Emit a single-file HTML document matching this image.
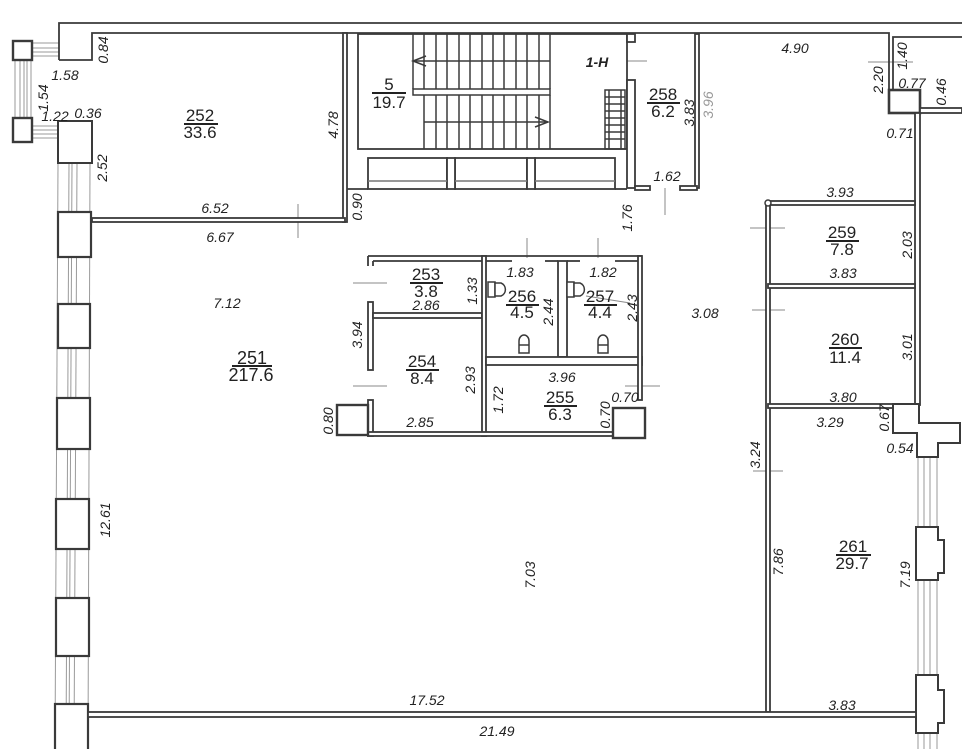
<!DOCTYPE html>
<html>
<head>
<meta charset="utf-8">
<style>
  html,body{margin:0;padding:0;background:#fff;}
  svg{display:block;}
  .d{font-family:"Liberation Sans",sans-serif;font-style:italic;font-size:14px;fill:#222;}
  .g{font-family:"Liberation Sans",sans-serif;font-style:italic;font-size:14px;fill:#999;}
  .r{font-family:"Liberation Sans",sans-serif;font-size:17px;fill:#222;}
  .rb{font-family:"Liberation Sans",sans-serif;font-size:18px;fill:#222;}
</style>
</head>
<body>
<svg width="962" height="749" viewBox="0 0 962 749" xmlns="http://www.w3.org/2000/svg">
<rect width="962" height="749" fill="#fff"/>

<!-- thin gray window lines -->
<g stroke="#9a9a9a" stroke-width="1" fill="none">
  <!-- top-left bay windows -->
  <line x1="32" y1="43" x2="59" y2="43"/><line x1="32" y1="48" x2="59" y2="48"/>
  <line x1="32" y1="52" x2="59" y2="52"/><line x1="32" y1="56" x2="59" y2="56"/>
  <line x1="32" y1="126" x2="58" y2="126"/><line x1="32" y1="130" x2="58" y2="130"/>
  <line x1="32" y1="134" x2="58" y2="134"/><line x1="32" y1="138" x2="58" y2="138"/>
  <line x1="15" y1="60" x2="15" y2="118"/><line x1="20" y1="60" x2="20" y2="118"/>
  <line x1="24" y1="60" x2="24" y2="118"/><line x1="27" y1="60" x2="27" y2="118"/>
  <line x1="31" y1="60" x2="31" y2="118"/>
  <!-- left facade window lines -->
  <line x1="58" y1="163" x2="55" y2="749"/>
  <line x1="69" y1="163" x2="66" y2="749"/>
  <line x1="72" y1="163" x2="69" y2="749"/>
  <line x1="77" y1="163" x2="74" y2="749"/>
  <line x1="90" y1="163" x2="88" y2="749"/>
  <!-- right facade window lines -->
  <line x1="918" y1="457" x2="918" y2="749"/>
  <line x1="924" y1="457" x2="924" y2="749"/>
  <line x1="930" y1="457" x2="930" y2="749"/>
  <line x1="937" y1="457" x2="937" y2="749"/>
</g>

<!-- door markers / ticks -->
<g stroke="#8a8a8a" stroke-width="1" fill="none">
  <line x1="298" y1="204" x2="298" y2="238"/>
  <line x1="665" y1="188" x2="665" y2="215"/>
  <line x1="607" y1="61" x2="647" y2="61"/>
  <line x1="868" y1="62" x2="913" y2="62"/>
  <line x1="750" y1="228" x2="785" y2="228"/>
  <line x1="752" y1="310" x2="785" y2="310"/>
  <line x1="753" y1="471" x2="783" y2="471"/>
  <line x1="353" y1="283" x2="387" y2="283"/>
  <line x1="353" y1="386" x2="387" y2="386"/>
  <line x1="527" y1="238" x2="527" y2="258"/>
  <line x1="598" y1="238" x2="598" y2="258"/>
  <line x1="625" y1="386" x2="660" y2="386"/>
  <line x1="640" y1="374" x2="640" y2="400"/>
  <line x1="586" y1="296" x2="630" y2="303"/>
</g>

<!-- walls -->
<g fill="#fff" stroke="#3a3a3a" stroke-width="1.8">
  <!-- top outer wall -->
  <polyline points="59,60 59,23 962,23" fill="none"/>
  <polyline points="59,60 92,60 92,33 889,33 889,90" fill="none"/>
  <polyline points="893,90 893,37 962,37" fill="none"/>

  <!-- top-left bay squares -->
  <rect x="13" y="41" width="19" height="19" stroke-width="2.4"/>
  <rect x="13" y="118" width="19" height="24" stroke-width="2.4"/>
  <rect x="58" y="121" width="34" height="42" stroke-width="2"/>

  <!-- left facade pillars -->
  <rect x="58" y="212" width="33" height="45" stroke-width="2.2"/>
  <rect x="58" y="304" width="32" height="44" stroke-width="2.2"/>
  <rect x="57" y="398" width="33" height="51" stroke-width="2.2"/>
  <rect x="56" y="499" width="33" height="50" stroke-width="2.2"/>
  <rect x="56" y="598" width="33" height="58" stroke-width="2.2"/>
  <rect x="55" y="704" width="33" height="50" stroke-width="2.2"/>

  <!-- room 252 -->
  <rect x="343" y="33" width="4" height="189"/>
  <rect x="92" y="218" width="253" height="4"/>

  <!-- stair room -->
  <rect x="358" y="34" width="269" height="115"/>
  <rect x="627" y="34" width="8" height="8"/>
  <rect x="627" y="80" width="8" height="108"/>
  <rect x="695" y="34" width="4" height="154"/>
  <rect x="635" y="186" width="15" height="4"/>
  <rect x="680" y="186" width="17" height="4"/>
  <line x1="347" y1="189" x2="368" y2="189"/>
  <line x1="615" y1="189" x2="627" y2="189"/>

  <!-- three boxes below stairs -->
  <rect x="368" y="158" width="79" height="31"/>
  <rect x="455" y="158" width="72" height="31"/>
  <rect x="535" y="158" width="80" height="31"/>
  <rect x="447" y="158" width="8" height="31"/>
  <rect x="527" y="158" width="8" height="31"/>

  <!-- right upper -->
  <rect x="889" y="90" width="31" height="23" stroke-width="2.6"/>
  <rect x="920" y="108" width="42" height="5"/>
  <rect x="915" y="113" width="5" height="292"/>

  <!-- rooms 259/260/261 -->
  <rect x="766" y="203" width="4" height="509"/>
  <rect x="768" y="201" width="147" height="4"/>
  <rect x="768" y="284" width="147" height="4"/>
  <rect x="768" y="404" width="125" height="4"/>

  <!-- cross pillar -->
  <polygon points="893,404 919,404 919,423 960,423 960,443 938,443 938,457 917,457 917,433 893,433" stroke-width="2"/>
  <!-- right facade pillars -->
  <polygon points="916,527 938,527 938,540 944,540 944,573 938,573 938,580 916,580" stroke-width="2"/>
  <polygon points="916,675 938,675 938,690 944,690 944,723 938,723 938,733 916,733" stroke-width="2"/>

  <!-- bottom wall -->
  <rect x="88" y="712" width="828" height="5"/>

  <!-- central block -->
  <line x1="368" y1="256" x2="642" y2="256"/>
  <line x1="368" y1="256" x2="368" y2="266"/>
  <line x1="373" y1="261" x2="373" y2="266"/>
  <line x1="373" y1="261" x2="482" y2="261"/>
  <line x1="486" y1="261" x2="512" y2="261"/>
  <line x1="545" y1="261" x2="558" y2="261"/>
  <line x1="567" y1="261" x2="580" y2="261"/>
  <line x1="615" y1="261" x2="638" y2="261"/>
  <rect x="368" y="302" width="5" height="68"/>
  <rect x="368" y="400" width="5" height="36"/>
  <rect x="373" y="313" width="109" height="5"/>
  <rect x="482" y="256" width="4" height="180"/>
  <rect x="558" y="261" width="9" height="96"/>
  <rect x="486" y="357" width="156" height="8"/>
  <rect x="638" y="256" width="4" height="144"/>
  <rect x="368" y="432" width="245" height="4"/>
  <rect x="337" y="405" width="31" height="30" stroke-width="2.4"/>
  <rect x="613" y="408" width="32" height="30" stroke-width="2.4"/>
</g>

<!-- stairs -->
<g stroke="#3a3a3a" stroke-width="1.5" fill="none">
  <line x1="413" y1="34" x2="413" y2="89"/><line x1="424" y1="34" x2="424" y2="89"/>
  <line x1="436" y1="34" x2="436" y2="89"/><line x1="447" y1="34" x2="447" y2="89"/>
  <line x1="459" y1="34" x2="459" y2="89"/><line x1="470" y1="34" x2="470" y2="89"/>
  <line x1="482" y1="34" x2="482" y2="89"/><line x1="493" y1="34" x2="493" y2="89"/>
  <line x1="504" y1="34" x2="504" y2="89"/><line x1="516" y1="34" x2="516" y2="89"/>
  <line x1="527" y1="34" x2="527" y2="89"/><line x1="539" y1="34" x2="539" y2="89"/>
  <line x1="550" y1="34" x2="550" y2="89"/>
  <line x1="424" y1="95" x2="424" y2="149"/>
  <line x1="436" y1="95" x2="436" y2="149"/><line x1="447" y1="95" x2="447" y2="149"/>
  <line x1="459" y1="95" x2="459" y2="149"/><line x1="470" y1="95" x2="470" y2="149"/>
  <line x1="482" y1="95" x2="482" y2="149"/><line x1="493" y1="95" x2="493" y2="149"/>
  <line x1="504" y1="95" x2="504" y2="149"/><line x1="516" y1="95" x2="516" y2="149"/>
  <line x1="527" y1="95" x2="527" y2="149"/><line x1="539" y1="95" x2="539" y2="149"/>
  <line x1="550" y1="95" x2="550" y2="149"/>
  <rect x="413" y="89" width="137" height="6" fill="#fff"/>
  <line x1="413" y1="61" x2="550" y2="61"/>
  <polyline points="426,56 413,61 426,66"/>
  <line x1="424" y1="122" x2="548" y2="122"/>
  <polyline points="535,117 548,122 535,127"/>
  <!-- ladder -->
  <rect x="605" y="90" width="20" height="59"/>
  <line x1="609" y1="90" x2="609" y2="149"/>
  <line x1="621" y1="90" x2="621" y2="149"/>
  <line x1="605" y1="97" x2="625" y2="97"/><line x1="605" y1="104" x2="625" y2="104"/>
  <line x1="605" y1="111" x2="625" y2="111"/><line x1="605" y1="118" x2="625" y2="118"/>
  <line x1="605" y1="125" x2="625" y2="125"/><line x1="605" y1="132" x2="625" y2="132"/>
  <line x1="605" y1="139" x2="625" y2="139"/>
  <!-- box inner lines -->
  <line x1="368" y1="181" x2="447" y2="181" stroke="#777"/>
  <line x1="455" y1="181" x2="527" y2="181" stroke="#777"/>
  <line x1="535" y1="181" x2="615" y2="181" stroke="#777"/>
</g>

<!-- fixtures -->
<g stroke="#3a3a3a" stroke-width="1.5" fill="#fff">
  <rect x="488" y="282" width="7" height="15"/>
  <path d="M495,283 h6 a7 7 0 0 1 0 13 h-6 z"/>
  <path d="M519,353 v-12 a5 6 0 0 1 10 0 v12 z"/>
  <line x1="519" y1="345" x2="529" y2="345"/>
  <rect x="567" y="282" width="7" height="15"/>
  <path d="M574,283 h6 a7 7 0 0 1 0 13 h-6 z"/>
  <path d="M598,353 v-12 a5 6 0 0 1 10 0 v12 z"/>
  <line x1="598" y1="345" x2="608" y2="345"/>
  <circle cx="768" cy="203" r="3"/>
</g>

<!-- room labels -->
<g text-anchor="middle">
  <text class="r" x="200" y="121">252</text>
  <line x1="184" y1="124" x2="218" y2="124" stroke="#222" stroke-width="2"/>
  <text class="r" x="200" y="138">33.6</text>

  <text class="r" x="389" y="90">5</text>
  <line x1="372" y1="93" x2="406" y2="93" stroke="#222" stroke-width="2"/>
  <text class="r" x="389" y="108">19.7</text>

  <text class="r" x="663" y="100">258</text>
  <line x1="647" y1="103" x2="680" y2="103" stroke="#222" stroke-width="2"/>
  <text class="r" x="663" y="117">6.2</text>

  <text class="r" x="426" y="280">253</text>
  <line x1="410" y1="283" x2="443" y2="283" stroke="#222" stroke-width="2"/>
  <text class="r" x="426" y="297">3.8</text>

  <text class="r" x="522" y="302">256</text>
  <line x1="506" y1="305" x2="539" y2="305" stroke="#222" stroke-width="2"/>
  <text class="r" x="522" y="318">4.5</text>

  <text class="r" x="600" y="302">257</text>
  <line x1="584" y1="305" x2="617" y2="305" stroke="#222" stroke-width="2"/>
  <text class="r" x="600" y="318">4.4</text>

  <text class="r" x="422" y="367">254</text>
  <line x1="406" y1="370" x2="439" y2="370" stroke="#222" stroke-width="2"/>
  <text class="r" x="422" y="384">8.4</text>

  <text class="r" x="560" y="403">255</text>
  <line x1="544" y1="406" x2="577" y2="406" stroke="#222" stroke-width="2"/>
  <text class="r" x="560" y="420">6.3</text>

  <text class="rb" x="252" y="364">251</text>
  <line x1="232" y1="366" x2="272" y2="366" stroke="#222" stroke-width="2"/>
  <text class="rb" x="251" y="381">217.6</text>

  <text class="r" x="842" y="238">259</text>
  <line x1="826" y1="241" x2="859" y2="241" stroke="#222" stroke-width="2"/>
  <text class="r" x="842" y="255">7.8</text>

  <text class="r" x="845" y="345">260</text>
  <line x1="829" y1="348" x2="862" y2="348" stroke="#222" stroke-width="2"/>
  <text class="r" x="845" y="363">11.4</text>

  <text class="r" x="853" y="552">261</text>
  <line x1="836" y1="555" x2="871" y2="555" stroke="#222" stroke-width="2"/>
  <text class="r" x="852" y="569">29.7</text>
</g>

<!-- horizontal dimension labels -->
<g text-anchor="middle" class="d">
  <text x="65" y="80">1.58</text>
  <text x="55" y="121">1.22</text>
  <text x="88" y="118">0.36</text>
  <text x="215" y="213">6.52</text>
  <text x="220" y="242">6.67</text>
  <text x="667" y="181">1.62</text>
  <text x="795" y="53">4.90</text>
  <text x="912" y="88">0.77</text>
  <text x="900" y="138">0.71</text>
  <text x="840" y="197">3.93</text>
  <text x="843" y="278">3.83</text>
  <text x="843" y="402">3.80</text>
  <text x="830" y="427">3.29</text>
  <text x="900" y="453">0.54</text>
  <text x="842" y="710">3.83</text>
  <text x="427" y="705">17.52</text>
  <text x="497" y="736">21.49</text>
  <text x="227" y="308">7.12</text>
  <text x="705" y="318">3.08</text>
  <text x="426" y="310">2.86</text>
  <text x="520" y="277">1.83</text>
  <text x="603" y="277">1.82</text>
  <text x="562" y="382">3.96</text>
  <text x="625" y="402">0.70</text>
  <text x="420" y="427">2.85</text>
  <text x="597" y="67" font-weight="bold">1-H</text>
</g>

<!-- vertical dimension labels -->
<g text-anchor="middle" class="d">
  <text transform="translate(103,50) rotate(-90)" y="5">0.84</text>
  <text transform="translate(43,98) rotate(-90)" y="5">1.54</text>
  <text transform="translate(102,168) rotate(-90)" y="5">2.52</text>
  <text transform="translate(333,125) rotate(-90)" y="5">4.78</text>
  <text transform="translate(357,207) rotate(-90)" y="5">0.90</text>
  <text transform="translate(627,218) rotate(-90)" y="5">1.76</text>
  <text transform="translate(689,113) rotate(-90)" y="5">3.83</text>
  <text transform="translate(902,56) rotate(-90)" y="5">1.40</text>
  <text transform="translate(878,80) rotate(-90)" y="5">2.20</text>
  <text transform="translate(941,92) rotate(-90)" y="5">0.46</text>
  <text transform="translate(907,245) rotate(-90)" y="5">2.03</text>
  <text transform="translate(907,347) rotate(-90)" y="5">3.01</text>
  <text transform="translate(884,418) rotate(-90)" y="5">0.67</text>
  <text transform="translate(755,455) rotate(-90)" y="5">3.24</text>
  <text transform="translate(778,562) rotate(-90)" y="5">7.86</text>
  <text transform="translate(905,575) rotate(-90)" y="5">7.19</text>
  <text transform="translate(530,575) rotate(-90)" y="5">7.03</text>
  <text transform="translate(105,520) rotate(-90)" y="5">12.61</text>
  <text transform="translate(357,335) rotate(-90)" y="5">3.94</text>
  <text transform="translate(472,291) rotate(-90)" y="5">1.33</text>
  <text transform="translate(548,312) rotate(-90)" y="5">2.44</text>
  <text transform="translate(632,308) rotate(-90)" y="5">2.43</text>
  <text transform="translate(470,380) rotate(-90)" y="5">2.93</text>
  <text transform="translate(498,400) rotate(-90)" y="5">1.72</text>
  <text transform="translate(605,415) rotate(-90)" y="5">0.70</text>
  <text transform="translate(328,421) rotate(-90)" y="5">0.80</text>
</g>
<g text-anchor="middle" class="g">
  <text transform="translate(708,105) rotate(-90)" y="5">3.96</text>
</g>
</svg>
</body>
</html>
